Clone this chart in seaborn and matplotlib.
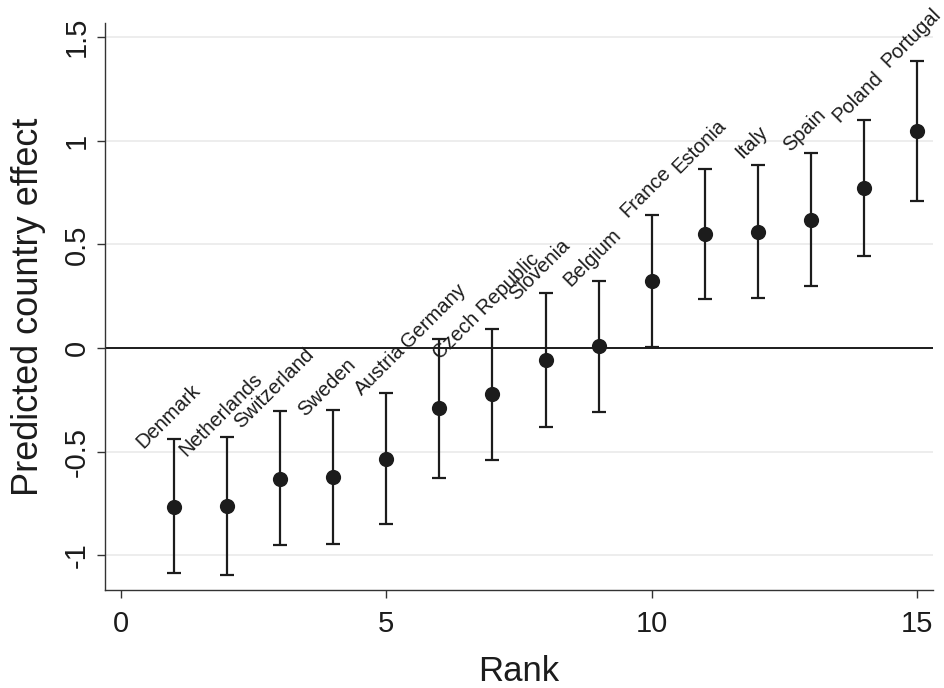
import matplotlib
matplotlib.use("Agg")
import matplotlib.pyplot as plt
import seaborn as sns
import pandas as pd
import numpy as np

countries = ["Denmark", "Netherlands", "Switzerland", "Sweden", "Austria",
             "Germany", "Czech Republic", "Slovenia", "Belgium", "France",
             "Estonia", "Italy", "Spain", "Poland", "Portugal"]
rank = [1, 2, 3, 4, 5, 6, 7, 8, 9, 10, 11, 12, 13, 14, 15]
effect = [-0.768, -0.763, -0.633, -0.623, -0.536, -0.29, -0.222, -0.058, 0.01,
          0.324, 0.55, 0.56, 0.618, 0.773, 1.048]
upper = [-0.44, -0.43, -0.304, -0.30, -0.217, 0.043, 0.092, 0.266, 0.324,
         0.642, 0.865, 0.884, 0.942, 1.10, 1.386]
lower = [-1.087, -1.096, -0.951, -0.947, -0.85, -0.628, -0.541, -0.382, -0.309,
         0.005, 0.237, 0.241, 0.30, 0.444, 0.71]

yticks = [-1, -0.5, 0, 0.5, 1, 1.5]
yticklabels = ["-1", "-0.5", "0", "0.5", "1", "1.5"]
xticks = [0, 5, 10, 15]
xticklabels = ["0", "5", "10", "15"]

df = pd.DataFrame({"country": countries, "rank": rank, "effect": effect,
                   "upper": upper, "lower": lower})

sns.set_theme(style="ticks")
plt.rcParams["font.family"] = ["Liberation Sans", "DejaVu Sans"]

dark = "#1c1c1c"
fig = plt.figure(figsize=(9.44, 6.88), dpi=100)
ax = fig.add_axes([0.1112, 0.1424, 0.8772, 0.8242])

# grid lines
for yv in yticks:
    ax.axhline(yv, color="#ececec", lw=1.3, zorder=0)
ax.axhline(0, color=dark, lw=1.4, zorder=1)

yerr = np.vstack([df["effect"] - df["lower"], df["upper"] - df["effect"]])
ax.errorbar(df["rank"], df["effect"], yerr=yerr, fmt="none", ecolor=dark,
            elinewidth=1.6, capsize=5, capthick=1.6, zorder=2)
sns.scatterplot(data=df, x="rank", y="effect", ax=ax, color=dark, s=120,
                edgecolor=dark, linewidth=0, zorder=3, legend=False)

for _, r in df.iterrows():
    ax.annotate(r["country"], xy=(r["rank"], r["upper"]), xytext=(-4.3, 16.5),
                textcoords="offset points", rotation=45, rotation_mode="anchor",
                ha="center", va="center", fontsize=14.5, color=dark)

ax.set_xlim(-0.3, 15.3)
ax.set_ylim(-1.168, 1.569)
ax.set_xticks(xticks)
ax.set_xticklabels(xticklabels)
ax.set_yticks(yticks)
ax.set_yticklabels(yticklabels, rotation=90, va="center")
ax.tick_params(axis="both", direction="out", length=5.5, width=1.0,
               color="#333333", labelsize=21, labelcolor=dark)
ax.tick_params(axis="x", pad=9)
ax.tick_params(axis="y", pad=5)
ax.set_xlabel("Rank", fontsize=25, color=dark, labelpad=12)
ax.set_ylabel("Predicted country effect", fontsize=26, color=dark, labelpad=12)

for s in ["top", "right"]:
    ax.spines[s].set_visible(False)
for s in ["left", "bottom"]:
    ax.spines[s].set_color("#333333")
    ax.spines[s].set_linewidth(1.0)
ax.set_facecolor("white")
fig.patch.set_facecolor("white")

fig.savefig("out.png", dpi=100)
